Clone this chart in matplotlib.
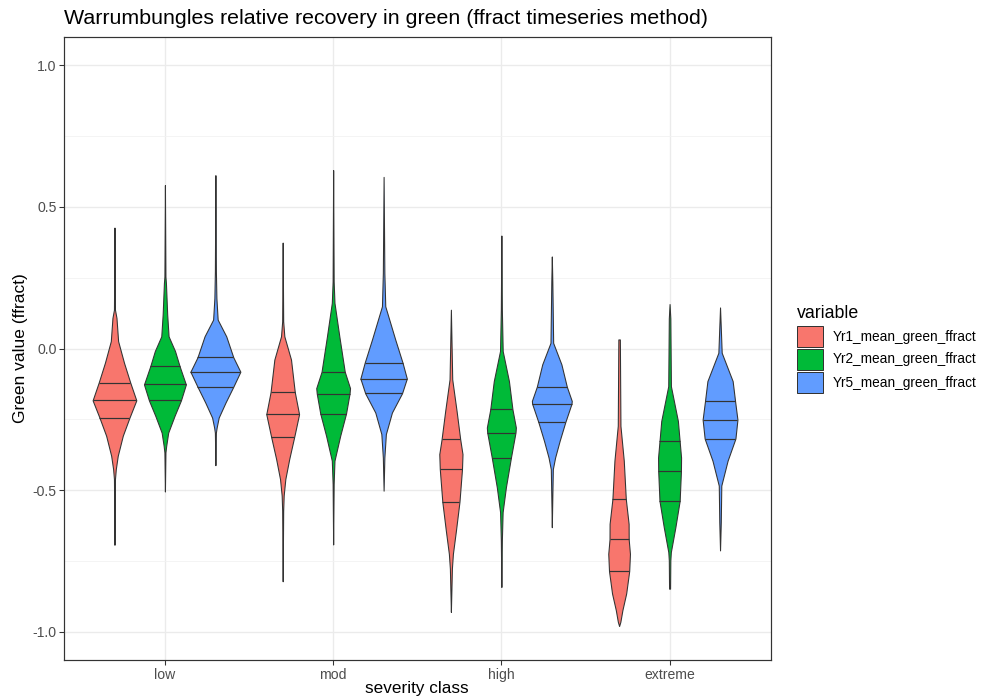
import numpy as np
import matplotlib
matplotlib.use("Agg")
import matplotlib.pyplot as plt
from matplotlib.patches import Rectangle

plt.rcParams['font.family'] = ['Liberation Sans', 'DejaVu Sans']

classes = ['low', 'mod', 'high', 'extreme']
variables = ['Yr1_mean_green_ffract', 'Yr2_mean_green_ffract', 'Yr5_mean_green_ffract']
colors = ['#F8766D', '#00BA38', '#619CFF']

# violin outlines: y values (top to bottom) and
# relative width (1 = widest violin), plus the 25/50/75 % quantiles
low_yr1_y = [0.427, 0.137, 0.108, 0.026, -0.050, -0.121, -0.183, -0.244, -0.308, -0.379, -0.426, -0.461, -0.693]
low_yr1_w = [0.0, 0.02, 0.08, 0.145, 0.377, 0.628, 0.866, 0.595, 0.33, 0.13, 0.053, 0.02, 0.0]
low_yr1_q = [-0.244, -0.183, -0.121]

low_yr2_y = [0.577, 0.254, 0.231, 0.120, 0.043, -0.009, -0.062, -0.127, -0.183, -0.238, -0.297, -0.344, -0.367, -0.505]
low_yr2_w = [0.0, 0.02, 0.04, 0.09, 0.145, 0.40, 0.58, 0.83, 0.635, 0.38, 0.13, 0.05, 0.02, 0.0]
low_yr2_q = [-0.183, -0.127, -0.062]

low_yr5_y = [0.612, 0.272, 0.225, 0.178, 0.102, 0.043, -0.031, -0.082, -0.135, -0.191, -0.244, -0.279, -0.297, -0.412]
low_yr5_w = [0.0, 0.02, 0.03, 0.04, 0.09, 0.43, 0.71, 0.99, 0.71, 0.40, 0.13, 0.05, 0.02, 0.0]
low_yr5_q = [-0.135, -0.082, -0.031]

mod_yr1_y = [0.374, 0.096, 0.043, -0.039, -0.154, -0.232, -0.311, -0.390, -0.461, -0.519, -0.572, -0.822]
mod_yr1_w = [0.0, 0.02, 0.066, 0.33, 0.48, 0.65, 0.46, 0.26, 0.105, 0.04, 0.02, 0.0]
mod_yr1_q = [-0.311, -0.232, -0.154]

mod_yr2_y = [0.630, 0.237, 0.161, 0.043, -0.082, -0.140, -0.159, -0.230, -0.308, -0.396, -0.478, -0.692]
mod_yr2_w = [0.0, 0.02, 0.053, 0.245, 0.46, 0.67, 0.65, 0.51, 0.28, 0.053, 0.02, 0.0]
mod_yr2_q = [-0.230, -0.159, -0.082]

mod_yr5_y = [0.606, 0.266, 0.149, 0.032, -0.050, -0.106, -0.158, -0.226, -0.302, -0.385, -0.502]
mod_yr5_w = [0.0, 0.03, 0.066, 0.46, 0.75, 0.92, 0.73, 0.33, 0.09, 0.03, 0.0]
mod_yr5_q = [-0.158, -0.106, -0.050]

high_yr1_y = [0.137, -0.004, -0.109, -0.220, -0.321, -0.373, -0.426, -0.541, -0.643, -0.725, -0.777, -0.854, -0.930]
high_yr1_w = [0.0, 0.03, 0.053, 0.225, 0.37, 0.46, 0.44, 0.34, 0.20, 0.08, 0.04, 0.02, 0.0]
high_yr1_q = [-0.541, -0.426, -0.321]

high_yr2_y = [0.399, 0.137, -0.009, -0.115, -0.215, -0.279, -0.297, -0.385, -0.490, -0.578, -0.678, -0.842]
high_yr2_w = [0.0, 0.02, 0.053, 0.30, 0.44, 0.575, 0.56, 0.38, 0.18, 0.05, 0.02, 0.0]
high_yr2_q = [-0.385, -0.297, -0.215]

high_yr5_y = [0.325, 0.237, 0.172, 0.020, -0.056, -0.135, -0.185, -0.195, -0.261, -0.326, -0.385, -0.426, -0.525, -0.631]
high_yr5_w = [0.0, 0.02, 0.03, 0.053, 0.38, 0.595, 0.79, 0.78, 0.53, 0.31, 0.13, 0.04, 0.02, 0.0]
high_yr5_q = [-0.261, -0.195, -0.135]

ext_yr1_y = [0.032, -0.273, -0.396, -0.531, -0.619, -0.674, -0.725, -0.786, -0.865, -0.924, -0.965, -0.980]
ext_yr1_w = [0.03, 0.053, 0.185, 0.265, 0.377, 0.38, 0.43, 0.40, 0.28, 0.13, 0.05, 0.0]
ext_yr1_q = [-0.786, -0.674, -0.531]

ext_yr2_y = [0.157, 0.106, -0.133, -0.256, -0.328, -0.385, -0.434, -0.538, -0.631, -0.719, -0.748, -0.848]
ext_yr2_w = [0.0, 0.03, 0.053, 0.33, 0.40, 0.456, 0.45, 0.40, 0.23, 0.05, 0.03, 0.02]
ext_yr2_q = [-0.538, -0.434, -0.328]

ext_yr5_y = [0.145, 0.073, -0.015, -0.115, -0.185, -0.251, -0.318, -0.396, -0.484, -0.613, -0.713]
ext_yr5_w = [0.0, 0.03, 0.066, 0.50, 0.595, 0.69, 0.61, 0.30, 0.05, 0.03, 0.0]
ext_yr5_q = [-0.318, -0.251, -0.185]

violins = [
    (0, 0, low_yr1_y, low_yr1_w, low_yr1_q),
    (0, 1, low_yr2_y, low_yr2_w, low_yr2_q),
    (0, 2, low_yr5_y, low_yr5_w, low_yr5_q),
    (1, 0, mod_yr1_y, mod_yr1_w, mod_yr1_q),
    (1, 1, mod_yr2_y, mod_yr2_w, mod_yr2_q),
    (1, 2, mod_yr5_y, mod_yr5_w, mod_yr5_q),
    (2, 0, high_yr1_y, high_yr1_w, high_yr1_q),
    (2, 1, high_yr2_y, high_yr2_w, high_yr2_q),
    (2, 2, high_yr5_y, high_yr5_w, high_yr5_q),
    (3, 0, ext_yr1_y, ext_yr1_w, ext_yr1_q),
    (3, 1, ext_yr2_y, ext_yr2_w, ext_yr2_q),
    (3, 2, ext_yr5_y, ext_yr5_w, ext_yr5_q),
]

W, H = 988, 698
fig = plt.figure(figsize=(W / 96, H / 96), dpi=96)
ax = fig.add_axes([64 / W, (H - 660) / H, (770.5 - 64) / W, (660 - 37) / H])

dodge = 0.3  # 0.9 dodge width / 3 groups
half_max = 0.15
edge = '#333333'

for ci, vi, ys, ws, qs in violins:
    xc = ci + 1 + (vi - 1) * dodge
    ys = np.array(ys)
    hw = np.array(ws) * half_max
    ax.fill_betweenx(ys, xc - hw, xc + hw, facecolor=colors[vi], edgecolor=edge,
                     linewidth=0.8, zorder=3)
    for q in qs:
        qw = np.interp(q, ys[::-1], hw[::-1])
        ax.plot([xc - qw, xc + qw], [q, q], color=edge, linewidth=0.9, zorder=4,
                solid_capstyle='butt')

ax.set_xlim(0.4, 4.6)
ax.set_ylim(-1.1, 1.1)
ax.set_xticks(range(1, 5))
ax.set_xticklabels(classes)
ax.set_yticks([-1.0, -0.5, 0.0, 0.5, 1.0])
ax.set_yticklabels(['-1.0', '-0.5', '0.0', '0.5', '1.0'])
ax.set_yticks([-0.75, -0.25, 0.25, 0.75], minor=True)
ax.grid(True, which='major', color='#EBEBEB', linewidth=1.0, zorder=0)
ax.grid(True, which='minor', axis='y', color='#F2F2F2', linewidth=0.6, zorder=0)
ax.set_axisbelow(True)
ax.tick_params(axis='both', which='major', length=3.7, width=0.8, color='#333333',
               labelsize=10.5, labelcolor='#4D4D4D', pad=2)
ax.tick_params(axis='y', which='minor', length=0)
for s in ax.spines.values():
    s.set_color('#333333')
    s.set_linewidth(0.9)

fig.text(417 / W, 1 - 688 / H, 'severity class', fontsize=12.8, ha='center', va='center',
         color='black')
ax.set_ylabel('Green value (ffract)', fontsize=13, color='black', labelpad=3)
fig.text(64 / W, 1 - 19 / H, 'Warrumbungles relative recovery in green (ffract timeseries method)',
         fontsize=16, ha='left', va='center', color='black')

# legend
fig.text(797 / W, 1 - 313 / H, 'variable', fontsize=13.3, ha='left', va='center')
key_tops = [326, 349, 372]
for vi, top in enumerate(key_tops):
    fig.add_artist(Rectangle((797 / W, 1 - (top + 21) / H), 26 / W, 21 / H,
                             transform=fig.transFigure, facecolor=colors[vi],
                             edgecolor=edge, linewidth=0.75))
    fig.text(833 / W, 1 - (top + 10.5) / H, variables[vi], fontsize=10.2,
             ha='left', va='center', color='black')

fig.savefig('out.png', dpi=96)
